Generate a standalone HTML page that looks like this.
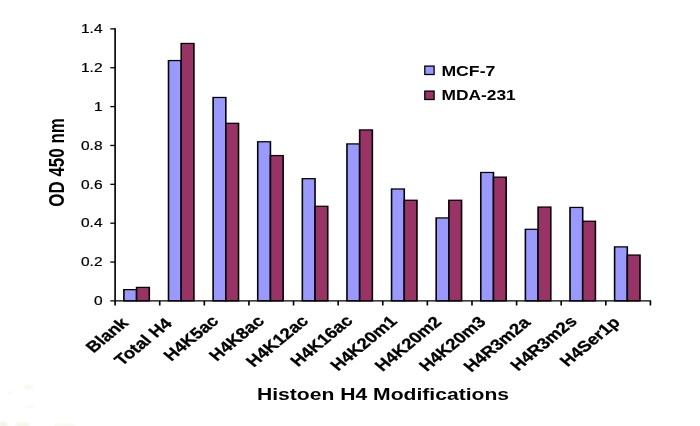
<!DOCTYPE html>
<html lang="en">
<head>
<meta charset="utf-8">
<title>Histone H4 Modifications</title>
<style>
html,body{margin:0;padding:0;background:#fff;}
body{width:700px;height:426px;overflow:hidden;}
svg{display:block;will-change:transform;}
text{font-family:"Liberation Sans",Arial,Helvetica,sans-serif;fill:#000;}
.b{font-weight:bold;}
</style>
</head>
<body>
<svg width="700" height="426" viewBox="0 0 700 426">
<rect width="700" height="426" fill="#ffffff"/>
<g transform="scale(1.27,1)">
<g stroke="#000" stroke-width="1.25" stroke-linejoin="miter">
<rect x="97.559" y="289.63" width="10.000" height="11.27" fill="#9999ff"/>
<rect x="107.559" y="287.40" width="10.000" height="13.50" fill="#993366"/>
<rect x="132.685" y="60.55" width="10.000" height="240.35" fill="#9999ff"/>
<rect x="142.685" y="43.45" width="10.000" height="257.45" fill="#993366"/>
<rect x="167.811" y="97.47" width="10.000" height="203.43" fill="#9999ff"/>
<rect x="177.811" y="123.31" width="10.000" height="177.59" fill="#993366"/>
<rect x="202.937" y="141.77" width="10.000" height="159.13" fill="#9999ff"/>
<rect x="212.937" y="155.56" width="10.000" height="145.34" fill="#993366"/>
<rect x="238.063" y="178.69" width="10.000" height="122.21" fill="#9999ff"/>
<rect x="248.063" y="206.28" width="10.000" height="94.62" fill="#993366"/>
<rect x="273.189" y="143.91" width="10.000" height="156.99" fill="#9999ff"/>
<rect x="283.189" y="129.92" width="10.000" height="170.98" fill="#993366"/>
<rect x="308.315" y="188.98" width="10.000" height="111.92" fill="#9999ff"/>
<rect x="318.315" y="200.25" width="10.000" height="100.65" fill="#993366"/>
<rect x="343.441" y="217.93" width="10.000" height="82.97" fill="#9999ff"/>
<rect x="353.441" y="200.25" width="10.000" height="100.65" fill="#993366"/>
<rect x="378.567" y="172.47" width="10.000" height="128.43" fill="#9999ff"/>
<rect x="388.567" y="177.13" width="10.000" height="123.77" fill="#993366"/>
<rect x="413.693" y="229.30" width="10.000" height="71.60" fill="#9999ff"/>
<rect x="423.693" y="207.05" width="10.000" height="93.85" fill="#993366"/>
<rect x="448.819" y="207.44" width="10.000" height="93.46" fill="#9999ff"/>
<rect x="458.819" y="221.24" width="10.000" height="79.66" fill="#993366"/>
<rect x="483.945" y="246.88" width="10.000" height="54.02" fill="#9999ff"/>
<rect x="493.945" y="255.05" width="10.000" height="45.85" fill="#993366"/>
</g>
<g stroke="#000" stroke-width="1.3" fill="none">
<line x1="90.630" y1="28.33" x2="90.630" y2="305.50"/>
<line x1="86.850" y1="300.9" x2="512.693" y2="300.9"/>
<line x1="86.850" y1="262.04" x2="90.630" y2="262.04"/>
<line x1="86.850" y1="223.18" x2="90.630" y2="223.18"/>
<line x1="86.850" y1="184.32" x2="90.630" y2="184.32"/>
<line x1="86.850" y1="145.46" x2="90.630" y2="145.46"/>
<line x1="86.850" y1="106.60" x2="90.630" y2="106.60"/>
<line x1="86.850" y1="67.74" x2="90.630" y2="67.74"/>
<line x1="86.850" y1="28.88" x2="90.630" y2="28.88"/>
<line x1="125.756" y1="300.9" x2="125.756" y2="305.50"/>
<line x1="160.882" y1="300.9" x2="160.882" y2="305.50"/>
<line x1="196.008" y1="300.9" x2="196.008" y2="305.50"/>
<line x1="231.134" y1="300.9" x2="231.134" y2="305.50"/>
<line x1="266.260" y1="300.9" x2="266.260" y2="305.50"/>
<line x1="301.386" y1="300.9" x2="301.386" y2="305.50"/>
<line x1="336.512" y1="300.9" x2="336.512" y2="305.50"/>
<line x1="371.638" y1="300.9" x2="371.638" y2="305.50"/>
<line x1="406.764" y1="300.9" x2="406.764" y2="305.50"/>
<line x1="441.890" y1="300.9" x2="441.890" y2="305.50"/>
<line x1="477.016" y1="300.9" x2="477.016" y2="305.50"/>
<line x1="512.142" y1="300.9" x2="512.142" y2="305.50"/>
</g>
</g>
<g font-size="12" text-anchor="end" stroke="#000" stroke-width="0.2">
<text transform="translate(102.5,305.20) scale(1.29,1)">0</text>
<text transform="translate(102.5,266.34) scale(1.29,1)">0.2</text>
<text transform="translate(102.5,227.48) scale(1.29,1)">0.4</text>
<text transform="translate(102.5,188.62) scale(1.29,1)">0.6</text>
<text transform="translate(102.5,149.76) scale(1.29,1)">0.8</text>
<text transform="translate(102.5,110.90) scale(1.29,1)">1</text>
<text transform="translate(102.5,72.04) scale(1.29,1)">1.2</text>
<text transform="translate(102.5,33.18) scale(1.29,1)">1.4</text>
</g>
<g class="b" font-size="15.3" text-anchor="end" stroke="#000" stroke-width="0.3">
<text transform="translate(129.41,324.00) scale(1.22,1) rotate(-45)">Blank</text>
<text transform="translate(173.01,324.50) scale(1.22,1) rotate(-45)">Total H4</text>
<text transform="translate(219.62,322.00) scale(1.22,1) rotate(-45)">H4K5ac</text>
<text transform="translate(265.24,322.00) scale(1.22,1) rotate(-45)">H4K8ac</text>
<text transform="translate(309.35,322.00) scale(1.22,1) rotate(-45)">H4K12ac</text>
<text transform="translate(353.75,321.70) scale(1.22,1) rotate(-45)">H4K16ac</text>
<text transform="translate(398.06,322.30) scale(1.22,1) rotate(-45)">H4K20m1</text>
<text transform="translate(442.67,322.70) scale(1.22,1) rotate(-45)">H4K20m2</text>
<text transform="translate(486.78,322.80) scale(1.22,1) rotate(-45)">H4K20m3</text>
<text transform="translate(531.39,323.50) scale(1.22,1) rotate(-45)">H4R3m2a</text>
<text transform="translate(578.00,322.30) scale(1.22,1) rotate(-45)">H4R3m2s</text>
<text transform="translate(621.12,323.50) scale(1.22,1) rotate(-45)">H4Ser1p</text>
</g>
<text class="b" font-size="16.3" text-anchor="middle" transform="translate(383,400.3) scale(1.296,1)">Histoen H4 Modifications</text>
<text class="b" font-size="17" text-anchor="middle" transform="translate(64.1,162.4) scale(1.3,1) rotate(-90)">OD 450 nm</text>
<g stroke="#000" stroke-width="1.3">
<rect x="424.8" y="66.1" width="9.3" height="8.4" fill="#9999ff"/>
<rect x="424.8" y="91.1" width="9.3" height="8.4" fill="#993366"/>
</g>
<g class="b" font-size="13.8">
<text transform="translate(441.4,76.0) scale(1.28,1)">MCF-7</text>
<text transform="translate(441.4,99.5) scale(1.26,1)">MDA-231</text>
</g>
<defs><filter id="sm" x="-50%" y="-50%" width="200%" height="200%"><feGaussianBlur stdDeviation="1"/></filter></defs>
<g fill="#eef0d8" opacity="0.7" filter="url(#sm)">
<rect x="24.5" y="385.5" width="8" height="3"/>
<rect x="8" y="392" width="3" height="2"/>
<rect x="27.5" y="406" width="6" height="1.6"/>
<rect x="0" y="422" width="7" height="4"/>
<rect x="16" y="423" width="13" height="3"/>
<rect x="55" y="424.5" width="20" height="1.5"/>
</g>
</svg>
</body>
</html>
